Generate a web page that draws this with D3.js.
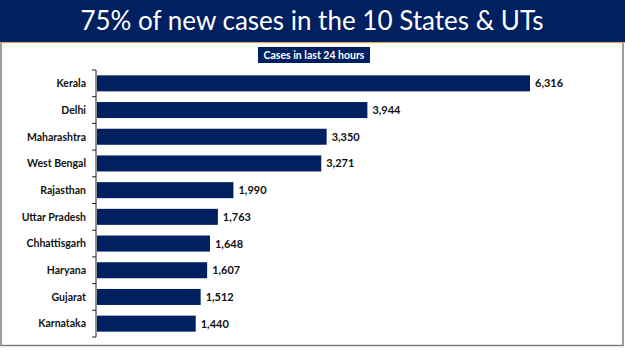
<!DOCTYPE html>
<html lang="en">
<head>
<meta charset="UTF-8">
<title>cases</title>
<style>
    body { margin: 0; background: #fff; }
    .cat text { font-family: Lato, "Open Sans", sans-serif; font-weight: bold; font-size: 10.5px; fill: #111; }
    .val { font-family: Lato, "Open Sans", sans-serif; font-weight: bold; font-size: 11px; fill: #111; }
</style>
</head>
<body>
<svg id="chart"></svg>
<script src="https://cdn.jsdelivr.net/npm/d3@7"></script>
<script>
// data
var states = ["Kerala", "Delhi", "Maharashtra", "West Bengal", "Rajasthan", "Uttar Pradesh", "Chhattisgarh", "Haryana", "Gujarat", "Karnataka"];
var cases = [6316, 3944, 3350, 3271, 1990, 1763, 1648, 1607, 1512, 1440];
var title = "75% of new cases in the 10 States & UTs";
var subtitle = "Cases in last 24 hours";

var W = 625, H = 351;
var svg = d3.select("#chart").attr("width", W).attr("height", H);

// white panel with grey border
svg.append("rect")
    .attr("x", 1).attr("y", 42).attr("width", 622).attr("height", 303.5)
    .attr("fill", "#fff").attr("stroke", "#7f7f7f").attr("stroke-width", 1.5);

// title banner
svg.append("rect").attr("x", 0).attr("y", 0).attr("width", W).attr("height", 42).attr("fill", "#002060");
svg.append("rect").attr("x", 0).attr("y", 42).attr("width", W).attr("height", 1.2).attr("fill", "#e6a36a");
svg.append("text")
    .attr("x", 312).attr("y", 30)
    .attr("text-anchor", "middle")
    .style("font-family", "Lato, 'Open Sans', sans-serif")
    .style("font-size", "26px")
    .attr("fill", "#fff")
    .text(title);

// subtitle box
svg.append("rect").attr("x", 258).attr("y", 47).attr("width", 112).attr("height", 16).attr("fill", "#002060");
svg.append("text")
    .attr("x", 314).attr("y", 59)
    .attr("text-anchor", "middle")
    .style("font-family", "Lato, 'Open Sans', sans-serif")
    .style("font-weight", "bold")
    .style("font-size", "10.5px")
    .attr("fill", "#fff")
    .text(subtitle);

// scales
var x0 = 97;
var xScale = d3.scaleLinear().domain([0, 6316]).range([x0, 530]);
var yScale = d3.scaleBand().domain(states).range([70, 337]).paddingInner(0.4).paddingOuter(0.2);

// bars
svg.selectAll(".bar")
    .data(states)
    .enter()
    .append("rect")
    .attr("class", "bar")
    .attr("x", xScale(0))
    .attr("y", function (d) { return yScale(d); })
    .attr("width", function (d, i) { return xScale(cases[i]) - xScale(0); })
    .attr("height", yScale.bandwidth())
    .attr("fill", "#002060");

// value labels
svg.selectAll(".val")
    .data(states)
    .enter()
    .append("text")
    .attr("class", "val")
    .attr("x", function (d, i) { return xScale(cases[i]) + 5; })
    .attr("y", function (d) { return yScale(d) + yScale.bandwidth() / 2; })
    .attr("dy", "0.36em")
    .text(function (d, i) { return d3.format(",")(cases[i]); });

// axis with ticks at category boundaries
var axisG = svg.append("g").attr("class", "cat");
axisG.append("line")
    .attr("x1", 96).attr("x2", 96).attr("y1", 70).attr("y2", 337)
    .attr("stroke", "#222").attr("stroke-width", 1);
var edges = d3.range(states.length + 1).map(function (i) { return 70 + i * yScale.step(); });
axisG.selectAll(".tk")
    .data(edges)
    .enter()
    .append("line")
    .attr("x1", 92).attr("x2", 96)
    .attr("y1", function (d) { return d; }).attr("y2", function (d) { return d; })
    .attr("stroke", "#222").attr("stroke-width", 1);
axisG.selectAll(".lbl")
    .data(states)
    .enter()
    .append("text")
    .attr("x", 86)
    .attr("y", function (d) { return yScale(d) + yScale.bandwidth() / 2; })
    .attr("dy", "0.36em")
    .attr("text-anchor", "end")
    .text(function (d) { return d; });
</script>
</body>
</html>
